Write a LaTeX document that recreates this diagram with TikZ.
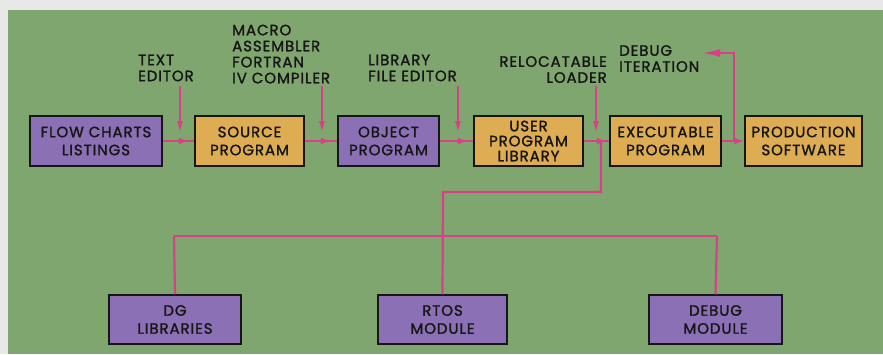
\documentclass[tikz,border=0pt]{standalone}
\usepackage{fontspec}
\setmainfont{Poppins}
\newfontfamily\diafont{Poppins}[FakeBold=1.5, LetterSpace=6]
\usetikzlibrary{arrows.meta,decorations.markings}
\definecolor{bggreen}{RGB}{128,166,111}
\definecolor{bggray}{RGB}{232,232,232}
\definecolor{boxpurple}{RGB}{140,112,182}
\definecolor{boxorange}{RGB}{222,172,82}
\definecolor{linkpink}{RGB}{218,64,136}
\definecolor{inkdark}{RGB}{22,22,22}
\begin{document}
\begin{tikzpicture}[x=1pt,y=-1pt,
  box/.style={draw=inkdark, line width=1.5pt, inner sep=0pt, align=center,
    text=inkdark, font=\diafont\fontsize{15}{18}\selectfont},
  pbox/.style={box, fill=boxpurple},
  obox/.style={box, fill=boxorange},
  lbl/.style={inner sep=0pt, text=inkdark, font=\diafont\fontsize{15}{16}\selectfont},
  link/.style={draw=linkpink, line width=2.2pt},
  arr/.style={link, -{Latex[length=13pt,width=6pt]}},
  midarr/.style={link, postaction={decorate}, decoration={markings,
    mark=at position #1 with {\arrow{Latex[length=10pt,width=7pt]}}}}
]
\useasboundingbox (0,0) rectangle (883,354);
\fill[bggray] (0,0) rectangle (883,354);
\fill[bggreen] (8,10) rectangle (883,354);

% top row boxes
\node[pbox, minimum width=132pt, minimum height=50pt] (flow) at (96,141) {FLOW CHARTS\\LISTINGS};
\node[obox, minimum width=109pt, minimum height=50pt] (src) at (249.5,141) {SOURCE\\PROGRAM};
\node[pbox, minimum width=101pt, minimum height=50pt] (obj) at (388.5,141) {OBJECT\\PROGRAM};
\node[obox, minimum width=109pt, minimum height=50pt, font=\diafont\fontsize{15}{15}\selectfont] (lib) at (528.5,141) {USER\\PROGRAM\\LIBRARY};
\node[obox, minimum width=111pt, minimum height=50pt] (exe) at (665.5,141) {EXECUTABLE\\PROGRAM};
\node[obox, minimum width=117pt, minimum height=50pt] (prod) at (803.5,141) {PRODUCTION\\SOFTWARE};

% bottom row boxes
\node[pbox, minimum width=132pt, minimum height=49pt] (dg) at (175,319.5) {DG\\LIBRARIES};
\node[pbox, minimum width=129pt, minimum height=49pt] (rtos) at (442.5,319.5) {RTOS\\MODULE};
\node[pbox, minimum width=133pt, minimum height=49pt] (dbg) at (715.5,319.5) {DEBUG\\MODULE};

% labels
\node[lbl, anchor=north west, align=left] (ted) at (138,54.5) {TEXT\\EDITOR};
\node[lbl, anchor=north west, align=left] (comp) at (232,24.5) {MACRO\\ASSEMBLER\\FORTRAN\\IV COMPILER};
\node[lbl, anchor=north west, align=left] (lfe) at (368,54.5) {LIBRARY\\FILE EDITOR};
\node[lbl, anchor=north east, align=right] (rel) at (607,56) {RELOCATABLE\\LOADER};
\node[lbl, anchor=north west, align=left] (dit) at (619,45) {DEBUG\\ITERATION};

% coordinates for free ends
\coordinate (tedA) at (180,86);
\coordinate (tedB) at (180,134);
\coordinate (compA) at (322,86);
\coordinate (compB) at (322,134);
\coordinate (lfeA) at (458,86);
\coordinate (lfeB) at (458,134);
\coordinate (relA) at (596,86);
\coordinate (relB) at (596,134);
\coordinate (ditA) at (702,53);
\coordinate (ditB) at (734,53);
\coordinate (ditC) at (734,141);
\coordinate (br0) at (601,141);
\coordinate (br1) at (601,192);
\coordinate (br2) at (443,192);
\coordinate (brL) at (174,236);
\coordinate (brR) at (717,236);

% main flow
\draw[midarr=26pt] (flow.east) -- (src.west);
\draw[midarr=26pt] (src.east) -- (obj.west);
\draw[midarr=28pt] (obj.east) -- (lib.west);
\draw[midarr=23pt] (lib.east) -- (exe.west);
\draw[link, -{Latex[length=10pt,width=7pt]}] (exe.east) -- (prod.west);

% tool inputs
\draw[arr] (tedA) -- (tedB);
\draw[arr] (compA) -- (compB);
\draw[arr] (lfeA) -- (lfeB);
\draw[arr] (relA) -- (relB);

% debug iteration
\draw[link, -{Latex[length=18pt,width=8pt]}] (ditC) -- (ditB) -- (ditA);

% library tree
\draw[link] (br0) -- (br1) -- (br2) -- (rtos.north);
\draw[link] (brL) -- (brR);
\draw[link] (brL) -- (dg.north);
\draw[link] (brR) -- (dbg.north);
\end{tikzpicture}
\end{document}
